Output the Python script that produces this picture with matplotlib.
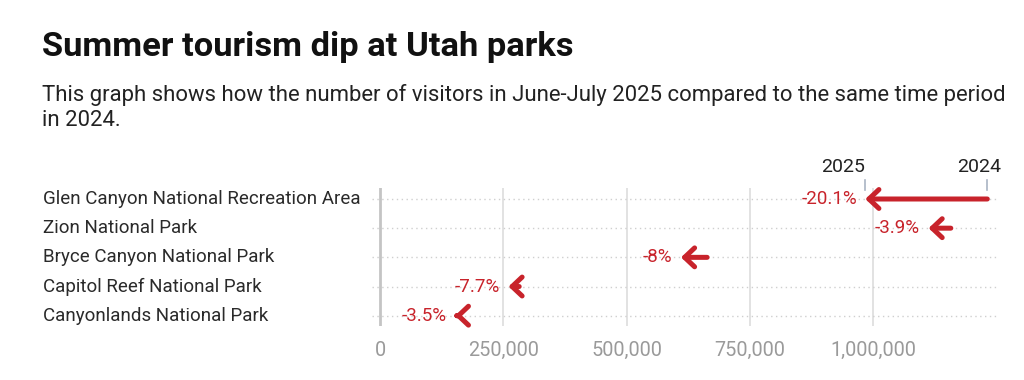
import matplotlib
matplotlib.use("Agg")
import matplotlib.pyplot as plt
from matplotlib import transforms

plt.rcParams['font.family'] = ['Roboto', 'DejaVu Sans']

parks = ["Glen Canyon National Recreation Area", "Zion National Park",
         "Bryce Canyon National Park", "Capitol Reef National Park",
         "Canyonlands National Park"]
visitors_2024 = [1231000, 1157000, 663000, 282000, 157000]
pct_change = [-20.1, -3.9, -8.0, -7.7, -3.5]
pct_labels = ["-20.1%", "-3.9%", "-8%", "-7.7%", "-3.5%"]
visitors_2025 = [v * (1 + p / 100) for v, p in zip(visitors_2024, pct_change)]
xticks = [0, 250000, 500000, 750000, 1000000]
xtick_labels = ["0", "250,000", "500,000", "750,000", "1,000,000"]

RED = "#c8232b"
W, H = 1024, 380
fig = plt.figure(figsize=(W / 100, H / 100), dpi=100)
ax = fig.add_axes([371.7 / W, 1 - 326 / H, 625 / W, 138 / H])
ax.set_xlim(-17000, 1250000)
ax.set_ylim(4.353, -0.377)
for s in ax.spines.values():
    s.set_visible(False)
ax.set_yticks([])
ax.set_xticks(xticks)
ax.set_xticklabels(xtick_labels, color="#9a9a9a", fontsize=14.3)
ax.tick_params(axis="x", length=0, pad=10.5)

for xt in xticks:
    if xt == 0:
        ax.axvline(xt, color="#c4c4c4", lw=2.0, zorder=1)
    else:
        ax.axvline(xt, color="#e2e2e2", lw=1.4, zorder=1)

ys = list(range(len(parks)))
for y in ys:
    ax.axhline(y, color="#cfcfcf", lw=1.0, ls=(0, (1, 2.5)), zorder=1)

blend = transforms.blended_transform_factory(fig.transFigure, ax.transData)
for y, name in zip(ys, parks):
    fig.text(43 / W, y, name, transform=blend, ha="left", va="center",
             fontsize=13.5, color="#2a2a2a")

for y, a, b, lab in zip(ys, visitors_2024, visitors_2025, pct_labels):
    ax.annotate("", xy=(b, y), xytext=(a, y),
                arrowprops=dict(arrowstyle="->,head_length=0.36,head_width=0.34",
                                color=RED, lw=3.6, shrinkA=0, shrinkB=0,
                                mutation_scale=20),
                zorder=3)
    ax.annotate(lab, xy=(b, y), xytext=(-6, 0), textcoords="offset points",
                ha="right", va="center", color=RED, fontsize=13.5, zorder=4)

# year markers above the top row
top_a, top_b = visitors_2024[0], visitors_2025[0]
for xv in (top_a, top_b):
    ax.plot([xv, xv], [-0.65, -0.32], color="#a9b4c4", lw=1.2, clip_on=False)
ax.annotate("2025", xy=(top_b, -0.65), xytext=(0, 3), textcoords="offset points",
            ha="right", va="bottom", fontsize=14, color="#222222", annotation_clip=False)
ax.annotate("2024", xy=(top_a, -0.65), xytext=(10, 3), textcoords="offset points",
            ha="right", va="bottom", fontsize=14, color="#222222", annotation_clip=False)

fig.text(42 / W, 1 - 56 / H, "Summer tourism dip at Utah parks", fontsize=24.8,
         fontweight="bold", color="#111111", ha="left", va="baseline")
fig.text(42 / W, 1 - 101.5 / H,
         "This graph shows how the number of visitors in June-July 2025 compared to the same time period",
         fontsize=15.9, color="#222222", ha="left", va="baseline")
fig.text(42 / W, 1 - 126.5 / H, "in 2024.", fontsize=15.9, color="#222222",
         ha="left", va="baseline")

fig.savefig("out.png", dpi=100, facecolor="white")
